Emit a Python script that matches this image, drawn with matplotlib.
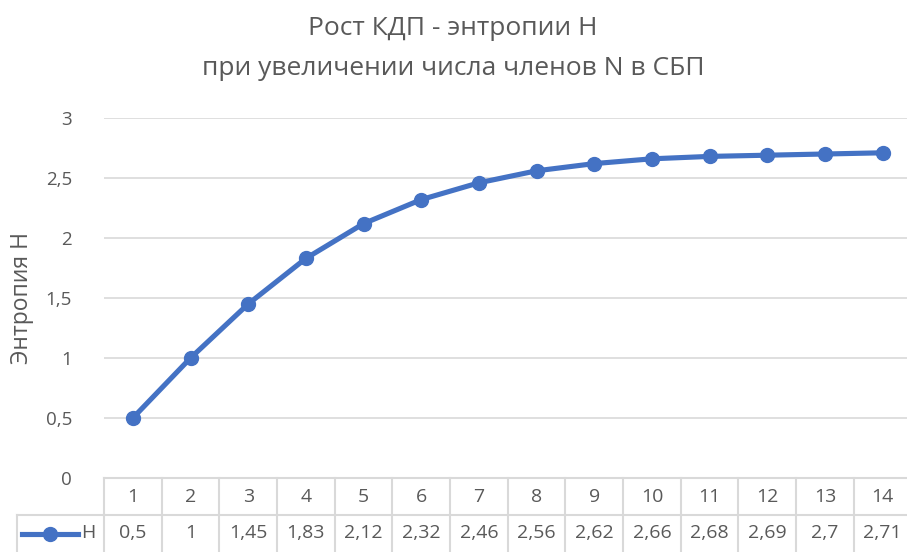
import matplotlib
matplotlib.use("Agg")
import matplotlib.pyplot as plt
from matplotlib.transforms import blended_transform_factory
from matplotlib.lines import Line2D

plt.rcParams['font.family'] = ['Open Sans', 'DejaVu Sans']

# data
n_members = [1, 2, 3, 4, 5, 6, 7, 8, 9, 10, 11, 12, 13, 14]
entropy = [0.5, 1, 1.45, 1.83, 2.12, 2.32, 2.46, 2.56, 2.62, 2.66, 2.68, 2.69, 2.7, 2.71]
series_name = "H"
y_ticks = [0, 0.5, 1, 1.5, 2, 2.5, 3]

blue = "#4472C4"
txt = "#595959"
grid = "#D9D9D9"

W, H = 907, 552
fig = plt.figure(figsize=(W / 100, H / 100), dpi=100)

# axes placed in pixel units
left, right, top, bottom = 104, 911.5, 118, 478
ax = fig.add_axes([left / W, 1 - bottom / H, (right - left) / W, (bottom - top) / H])
ax.set_xlim(0.5, len(n_members) + 0.5)
ax.set_ylim(0, 3)

ax.plot(n_members, entropy, color=blue, lw=3.7, marker="o", ms=10,
        solid_capstyle="round", zorder=3)

ax.set_yticks(y_ticks)
ax.set_yticklabels([("%g" % v).replace(".", ",") for v in y_ticks])
ax.tick_params(axis="y", length=0, pad=23, labelsize=13.5, labelcolor=txt)
ax.set_xticks([])
for sp in ax.spines.values():
    sp.set_visible(False)
for v in y_ticks[1:]:
    ax.axhline(v, color=grid, lw=1.2, zorder=1)

fig.text(22 / W, 1 - 298 / H, "Энтропия H", rotation=90, ha="center", va="center",
         fontsize=16.5, color=txt)

# data table below the plot
tr = blended_transform_factory(ax.transData, ax.transAxes)
row_h = 37 / (bottom - top)
colw = (right - left) / len(n_members)
lc = dict(color=grid, lw=1.5, clip_on=False, zorder=1)
ax.plot([0.5, len(n_members) + 0.5], [0, 0], transform=tr, **lc)
ax.plot([0.5, len(n_members) + 0.5], [-row_h, -row_h], transform=tr, **lc)
for i in range(len(n_members) + 1):
    x = i + 0.5
    ax.plot([x, x], [0, -2 * row_h], transform=tr, **lc)
# legend cell border
ax.plot([-87 / colw + 0.5, 0.5], [-row_h, -row_h], transform=tr, **lc)
ax.plot([-87 / colw + 0.5] * 2, [-row_h, -2 * row_h], transform=tr, **lc)

for x, v in zip(n_members, entropy):
    ax.text(x, -row_h / 2, str(x), transform=tr, ha="center", va="center",
            fontsize=14, color=txt)
    ax.text(x, -1.5 * row_h, ("%g" % v).replace(".", ","), transform=tr,
            ha="center", va="center", fontsize=14, color=txt)

# legend key inside table
ly = -1.5 * row_h
ax.add_line(Line2D([-82 / colw + 0.5, -26 / colw + 0.5], [ly, ly], transform=tr,
                   color=blue, lw=3.7, clip_on=False))
ax.add_line(Line2D([-54 / colw + 0.5], [ly], transform=tr, color=blue, marker="o",
                   ms=10, clip_on=False))
ax.text(-16 / colw + 0.5, ly, series_name, transform=tr, ha="center", va="center",
        fontsize=14, color=txt)

fig.text(453 / W, 1 - 35 / H, "Рост КДП - энтропии H", ha="center", va="baseline",
         fontsize=19, color=txt)
fig.text(453 / W, 1 - 75 / H, "при увеличении числа членов N в СБП", ha="center",
         va="baseline", fontsize=19, color=txt)

fig.savefig("out.png", dpi=100, facecolor="white")
